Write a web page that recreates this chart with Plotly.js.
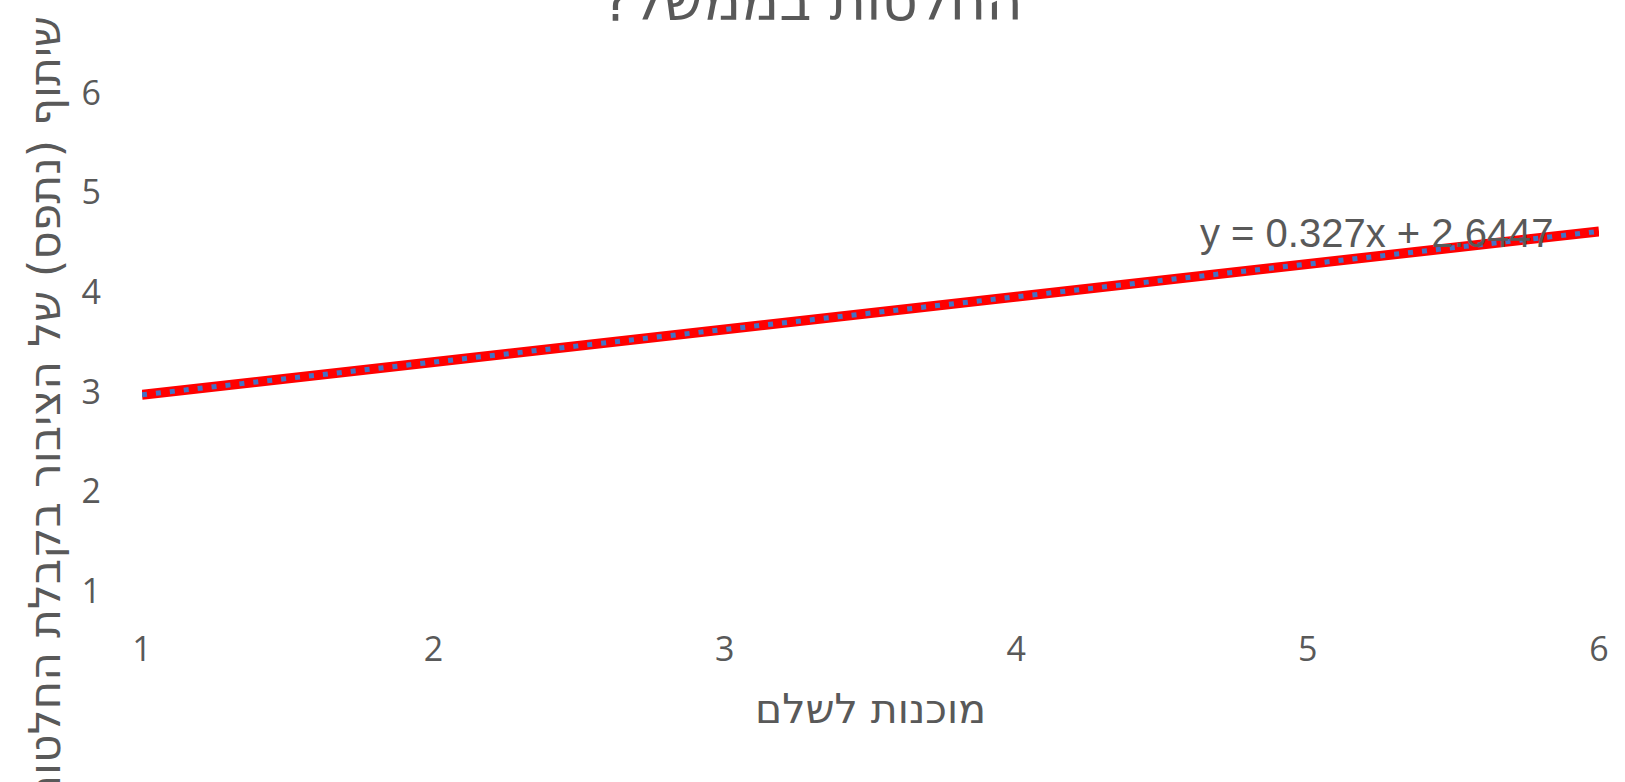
<!DOCTYPE html>
<html>
<head>
<meta charset="utf-8">
<script src="https://cdn.plot.ly/plotly-3.0.1.min.js"></script>
<style>html,body{margin:0;padding:0;background:#fff;}#chart{width:1625px;height:782px;}</style>
</head>
<body>
<div id="chart"></div>
<script>
// Data
const chartTitle = "החלטות בממשל?\u200F";
const xTitle = "מוכנות לשלם";
const yTitle = "שיתוף (נתפס) של הציבור בקבלת החלטות";
const equationLabel = "y = 0.327x + 2.6447";
const xValues = [1, 2, 3, 4, 5, 6];
const trendValues = [2.97, 3.30, 3.63, 3.95, 4.28, 4.61];
const xTicks = [1, 2, 3, 4, 5, 6];
const yTicks = [1, 2, 3, 4, 5, 6];

const grey = "#595959";
const traces = [
  {x: xValues, y: trendValues, mode: "lines", line: {color: "#ff0000", width: 10}, hoverinfo: "skip", showlegend: false},
  {x: xValues, y: trendValues, mode: "lines", line: {color: "#4472c4", width: 5, dash: "5px,9px"}, name: "Series", showlegend: false}
];

const layout = {
  width: 1625, height: 782,
  paper_bgcolor: "#fff", plot_bgcolor: "#fff",
  margin: {l: 142, r: 26, t: 58, b: 161},
  font: {family: "Open Sans, Noto Sans, DejaVu Sans, sans-serif", color: grey},
  title: {text: chartTitle, font: {size: 56, color: grey, family: "DejaVu Sans, sans-serif"}, x: 0.5, xanchor: "center", y: 1.0, yref: "container", yanchor: "middle"},
  xaxis: {range: [1, 6], tickvals: xTicks, showgrid: false, zeroline: false, showline: false, ticks: "",
    tickfont: {size: 34, color: grey}, ticklabelstandoff: 5,
    title: {text: xTitle, font: {size: 41, color: grey, family: "DejaVu Sans, sans-serif"}, standoff: 24}},
  yaxis: {range: [0.70, 6.35], tickvals: yTicks, showgrid: false, zeroline: false, showline: false, ticks: "",
    tickfont: {size: 34, color: grey}, ticklabelstandoff: 40},
  annotations: [
    {text: yTitle, textangle: -90, xref: "paper", yref: "paper", x: -0.0665, y: 0.375, xanchor: "center", yanchor: "middle", showarrow: false,
      font: {size: 44, color: grey, family: "DejaVu Sans, sans-serif"}},
    {text: equationLabel, xref: "paper", yref: "paper", x: 0.8476, y: 0.689, xanchor: "center", yanchor: "middle", showarrow: false,
      font: {size: 40, color: grey, family: "Liberation Sans, Arial, sans-serif"}}
  ]
};
Plotly.newPlot("chart", traces, layout, {displayModeBar: false, staticPlot: true});
</script>
</body>
</html>
